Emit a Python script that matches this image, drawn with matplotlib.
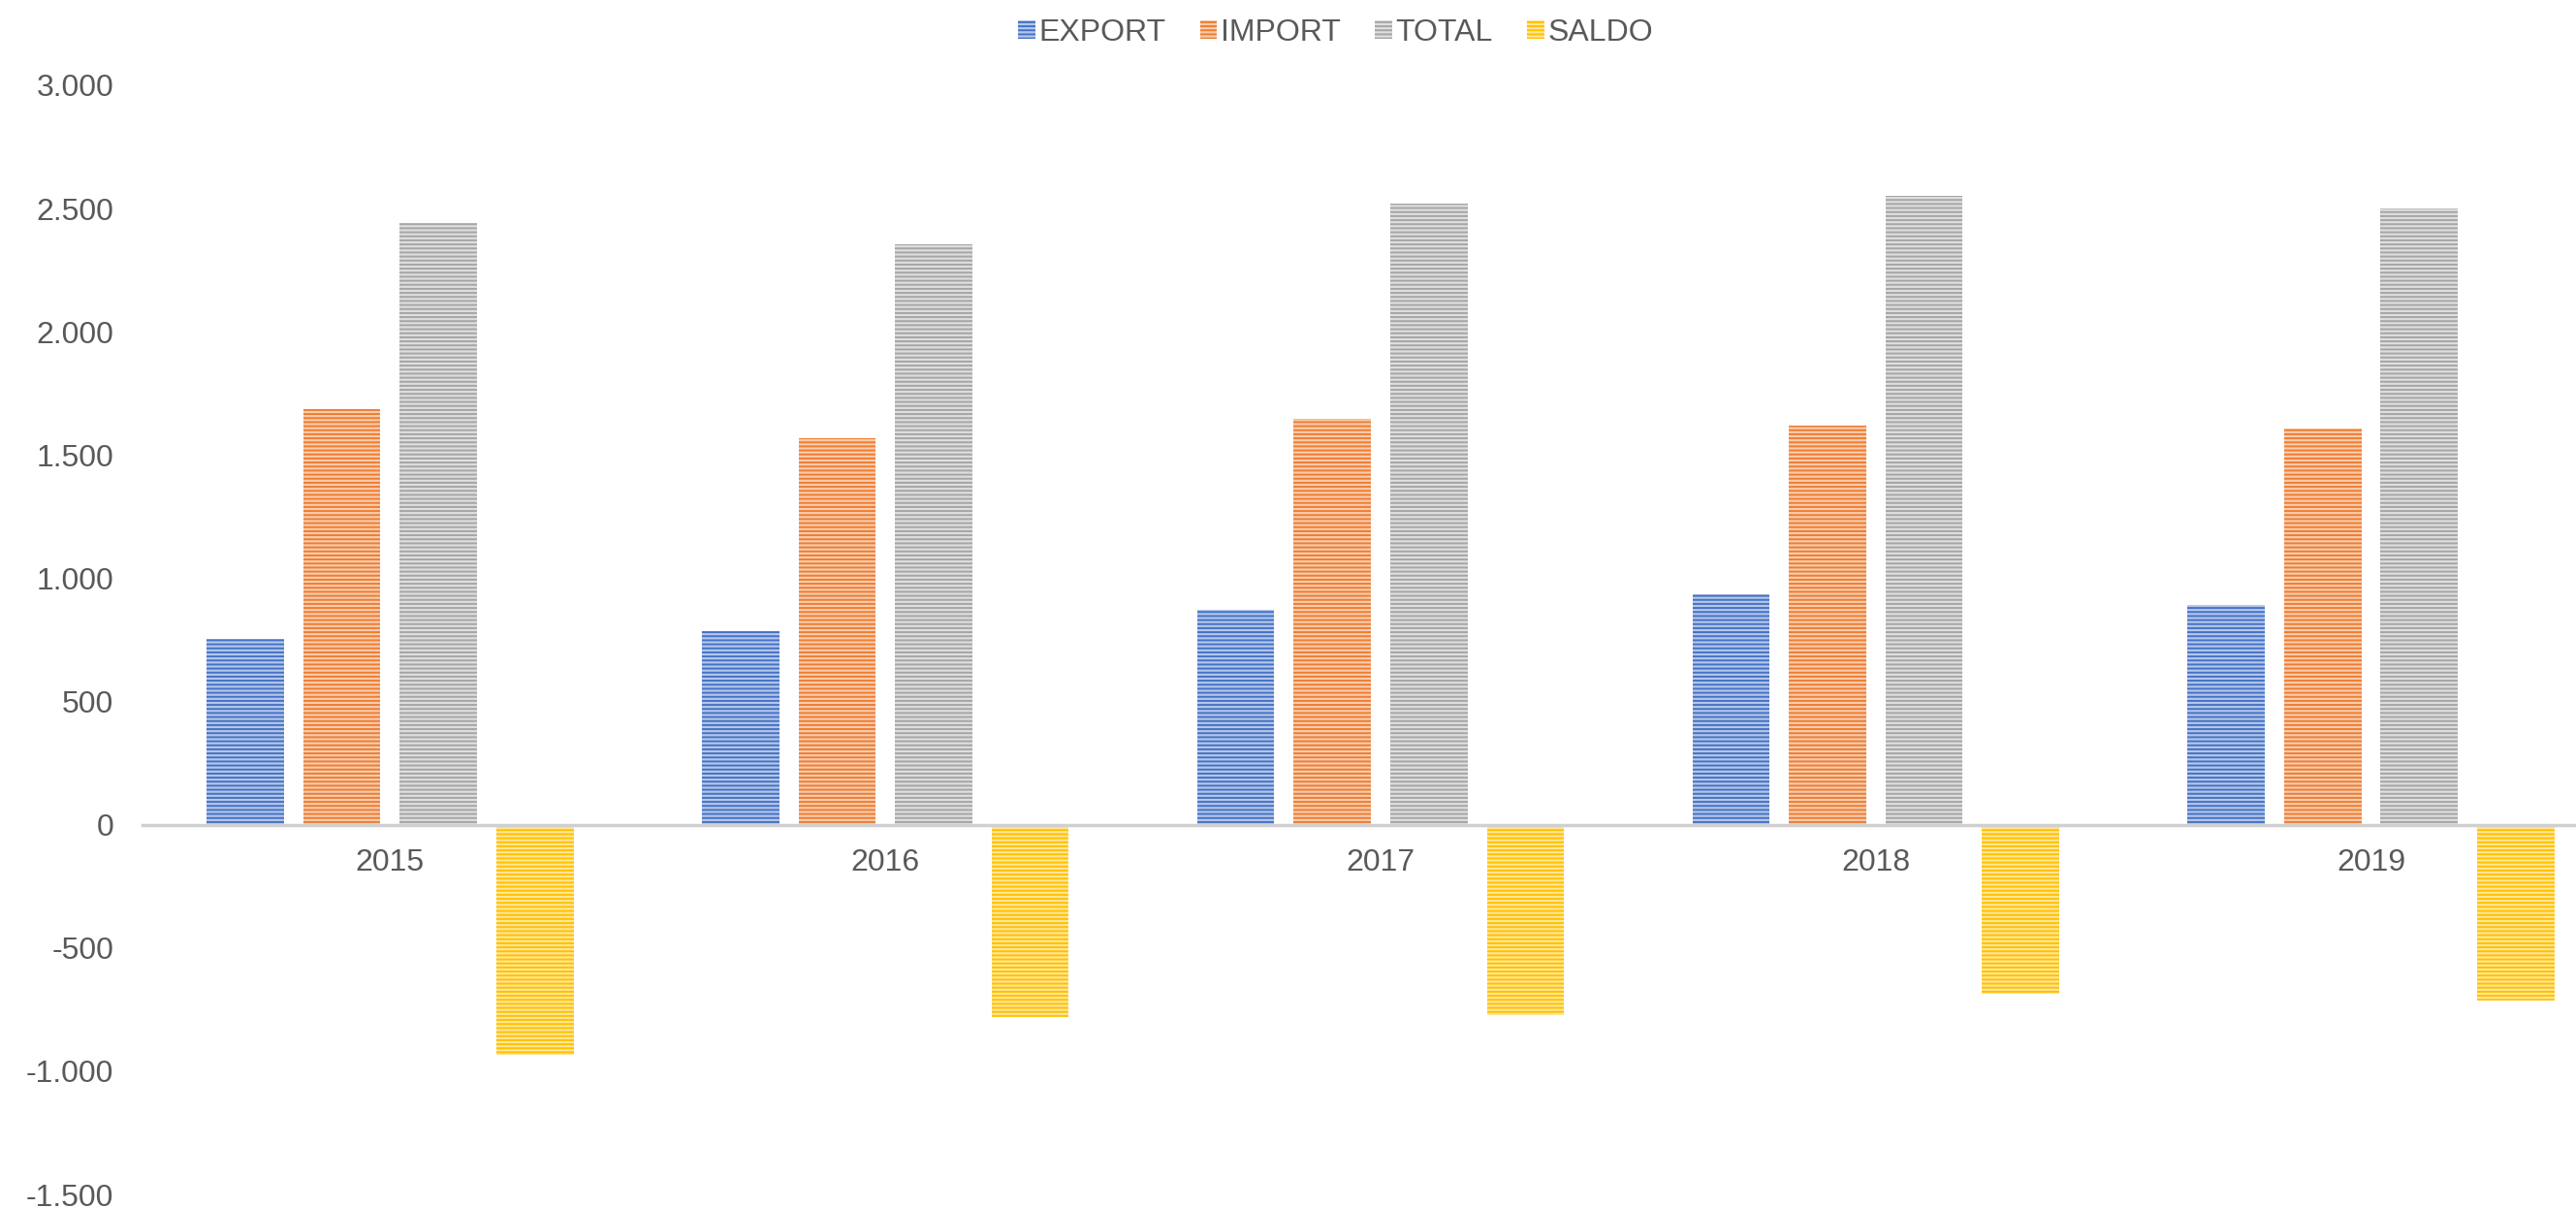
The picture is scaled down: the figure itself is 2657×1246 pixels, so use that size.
import matplotlib
matplotlib.use("Agg")
import matplotlib.pyplot as plt
from matplotlib.ticker import FuncFormatter, MultipleLocator
import numpy as np

# Data
years = ['2015', '2016', '2017', '2018', '2019']
export_vals = [753, 787, 873, 933, 893]
import_vals = [1687, 1567, 1647, 1620, 1607]
total_vals = [2440, 2354, 2520, 2553, 2500]
saldo_vals = [-934, -780, -774, -687, -714]

series_names = ['EXPORT', 'IMPORT', 'TOTAL', 'SALDO']
series_vals = [export_vals, import_vals, total_vals, saldo_vals]
main_colors = ['#4472C4', '#ED7D31', '#A5A5A5', '#FFC000']
light_colors = ['#B4C6EA', '#F8CBAD', '#DEDEDE', '#FFE699']

plt.rcParams['font.family'] = ['Liberation Sans', 'DejaVu Sans']
plt.rcParams['hatch.linewidth'] = 1.4
text_color = '#595959'

fig = plt.figure(figsize=(26.57, 12.46), dpi=100)
ax = fig.add_axes([147 / 2657, 1 - 1232 / 1246, 1 - 147 / 2657, (1232 - 88) / 1246])

x = np.arange(len(years))
step = 0.195
width = 0.156
for i, (name, vals) in enumerate(zip(series_names, series_vals)):
    ax.bar(x + (i - 1.5) * step, vals, width, label=name,
           facecolor=light_colors[i], edgecolor=main_colors[i],
           hatch='----', linewidth=0)

ax.set_ylim(-1500, 3000)
ax.set_xlim(-0.5, 4.414)
ax.yaxis.set_major_locator(MultipleLocator(500))
ax.yaxis.set_major_formatter(FuncFormatter(lambda v, p: f"{int(round(v)):,}".replace(',', '.')))
ax.set_xticks(x)
ax.set_xticklabels(years)

for s in ['left', 'right', 'top']:
    ax.spines[s].set_visible(False)
ax.spines['bottom'].set_position(('data', 0))
ax.spines['bottom'].set_color('#D0D0D0')
ax.spines['bottom'].set_linewidth(2.5)
ax.spines['bottom'].set_zorder(3)

ax.tick_params(axis='y', length=0, pad=21.5, labelsize=23, labelcolor=text_color)
ax.tick_params(axis='x', length=0, pad=17.5, labelsize=23, labelcolor=text_color)

fig.legend(loc='upper center', bbox_to_anchor=(0.5185, 1.008), ncol=4, frameon=False,
           fontsize=23, labelcolor=text_color, handlelength=0.55, handleheight=0.55,
           handletextpad=0.12, columnspacing=1.1)

fig.savefig('out.png', dpi=100)
